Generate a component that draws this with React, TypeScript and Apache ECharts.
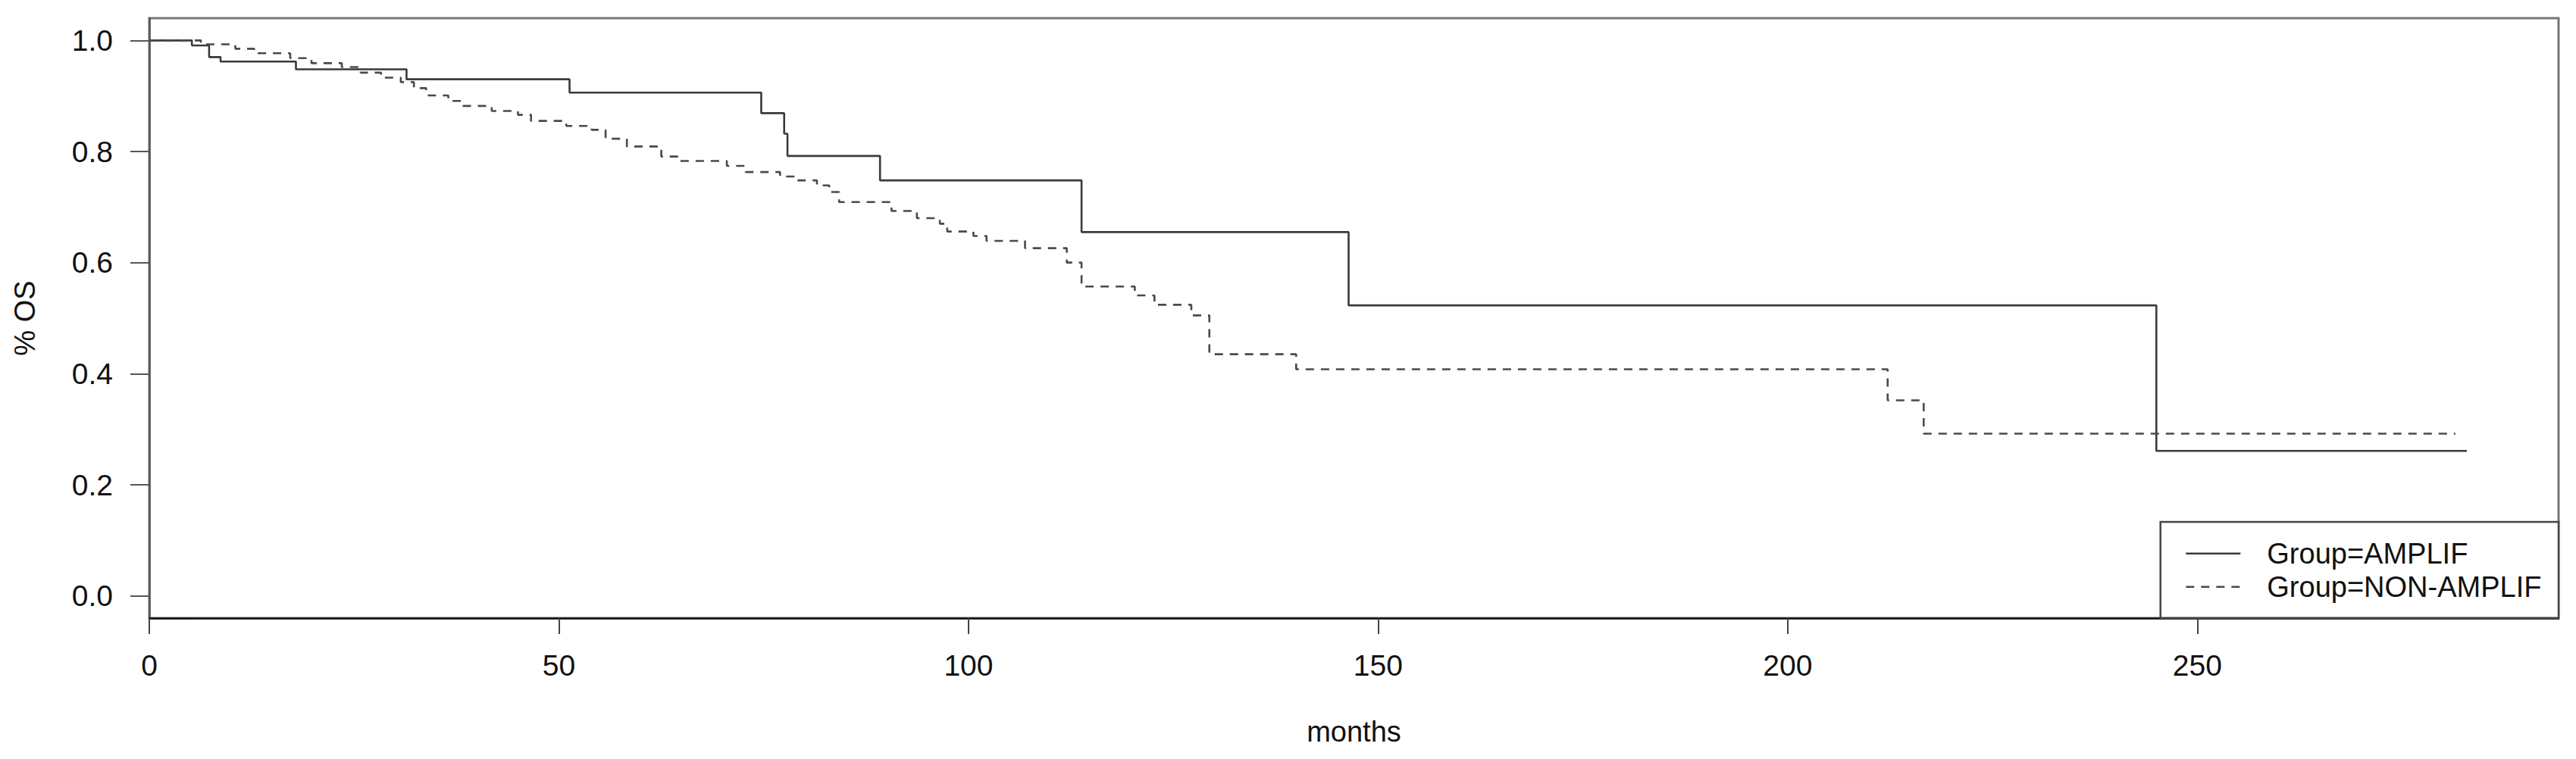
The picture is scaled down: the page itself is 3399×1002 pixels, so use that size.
import React, { useEffect, useRef } from 'react';
import * as echarts from 'echarts';

// Kaplan-Meier step data (time in months, survival proportion)
const amplifTimes = [0, 5.2, 7.3, 8.7, 17.9, 31.4, 51.3, 74.7, 77.5, 77.9, 89.2, 113.8, 146.4, 245.0, 282.9];
const amplifSurv = [1.0, 0.991, 0.970, 0.962, 0.948, 0.930, 0.906, 0.869, 0.832, 0.792, 0.748, 0.655, 0.523, 0.261, 0.261];

const nonAmplifTimes = [0, 6.3, 10.5, 12.8, 17.2, 19.8, 23.5, 25.8, 28.3, 30.7, 32.3, 33.8, 36.5, 38.1, 41.8, 45.0, 46.6, 50.9, 54.0, 55.7, 58.3, 62.5, 64.7, 70.5, 72.8, 77.0, 78.8, 81.5, 83.0, 84.2, 90.6, 93.7, 96.5, 97.4, 100.6, 102.2, 106.9, 112.0, 113.8, 120.3, 122.7, 127.2, 129.4, 140.0, 212.2, 216.6, 281.5];
const nonAmplifSurv = [1.0, 0.993, 0.985, 0.977, 0.968, 0.959, 0.952, 0.942, 0.933, 0.925, 0.914, 0.901, 0.891, 0.882, 0.873, 0.866, 0.855, 0.846, 0.839, 0.823, 0.809, 0.791, 0.783, 0.774, 0.763, 0.755, 0.748, 0.739, 0.727, 0.709, 0.693, 0.680, 0.670, 0.656, 0.648, 0.639, 0.626, 0.600, 0.557, 0.541, 0.524, 0.505, 0.435, 0.408, 0.352, 0.292, 0.292];

const seriesNames = ['Group=AMPLIF', 'Group=NON-AMPLIF'];
const xTicks = [0, 50, 100, 150, 200, 250];
const yTicks = [0, 0.2, 0.4, 0.6, 0.8, 1.0];
const xAxisName = 'months';
const yAxisName = '% OS';

const FONT = 'Liberation Sans, Arial, Helvetica, sans-serif';

export default function App() {
  const ref = useRef<HTMLDivElement>(null);

  useEffect(() => {
    document.body.style.margin = '0';
    document.body.style.overflow = 'hidden';
    if (!ref.current) return;
    const chart = echarts.init(ref.current, undefined, { renderer: 'svg' });

    const amplifData = amplifTimes.map((t, i) => [t, amplifSurv[i]]);
    const nonAmplifData = nonAmplifTimes.map((t, i) => [t, nonAmplifSurv[i]]);

    chart.setOption({
      animation: false,
      backgroundColor: '#ffffff',
      grid: {
        left: 197,
        right: 23,
        top: 24,
        bottom: 186,
        show: true,
        borderColor: '#777777',
        borderWidth: 3,
        containLabel: false,
        outerBoundsMode: 'none',
      },
      xAxis: {
        type: 'value',
        min: 0,
        max: 294.1,
        name: xAxisName,
        nameLocation: 'middle',
        nameGap: 150,
        nameTextStyle: { fontSize: 38, fontFamily: FONT, color: '#111', verticalAlign: 'middle' },
        axisLine: { show: true, onZero: false, lineStyle: { color: '#111', width: 2.5 } },
        axisTick: { show: true, inside: false, length: 21, customValues: xTicks, lineStyle: { color: '#444', width: 2 } },
        axisLabel: {
          show: true,
          customValues: xTicks,
          margin: 62,
          verticalAlign: 'middle',
          fontSize: 39,
          fontFamily: FONT,
          color: '#111',
          formatter: (v: number) => String(Math.round(v)),
        },
        splitLine: { show: false },
      },
      yAxis: {
        type: 'value',
        min: -0.04,
        max: 1.04,
        name: yAxisName,
        nameLocation: 'middle',
        nameGap: 164,
        nameRotate: 90,
        nameTextStyle: { fontSize: 38, fontFamily: FONT, color: '#111', verticalAlign: 'middle', align: 'center' },
        axisLine: { show: true, onZero: false, lineStyle: { color: '#555', width: 2.5 } },
        axisTick: { show: true, inside: false, length: 25, customValues: yTicks, lineStyle: { color: '#555', width: 2 } },
        axisLabel: {
          show: true,
          customValues: yTicks,
          margin: 48,
          fontSize: 39,
          fontFamily: FONT,
          color: '#111',
          formatter: (v: number) => v.toFixed(1),
        },
        splitLine: { show: false },
      },
      legend: {
        show: true,
        orient: 'vertical',
        left: 2883,
        top: 708.7,
        padding: 0,
        itemWidth: 72,
        itemHeight: 20,
        itemGap: 0,
        data: seriesNames,
        itemStyle: { color: 'rgba(0,0,0,0)', borderColor: 'rgba(0,0,0,0)', borderWidth: 0, opacity: 0 },
        lineStyle: { width: 2.6 },
        textStyle: {
          fontSize: 38,
          fontFamily: FONT,
          color: '#111',
          lineHeight: 44,
          padding: [0, 0, 0, 30],
        },
        z: 10,
      },
      graphic: [
        {
          type: 'rect',
          z: 3,
          shape: { x: 2850.7, y: 689, width: 3376 - 2850.7, height: 815.7 - 689 },
          style: { fill: '#ffffff', stroke: '#444444', lineWidth: 2.5 },
        },
      ],
      series: [
        {
          name: seriesNames[0],
          type: 'line',
          step: 'end',
          data: amplifData,
          showSymbol: false,
          symbol: 'none',
          lineStyle: { color: '#3a3a3a', width: 2.6, type: 'solid' },
          itemStyle: { color: '#3a3a3a' },
          z: 2,
        },
        {
          name: seriesNames[1],
          type: 'line',
          step: 'end',
          data: nonAmplifData,
          showSymbol: false,
          symbol: 'none',
          lineStyle: { color: '#4a4a4a', width: 2.6, type: [11, 9] },
          itemStyle: { color: '#4a4a4a' },
          z: 2,
        },
      ],
    });

    return () => {
      chart.dispose();
    };
  }, []);

  return <div ref={ref} style={{ width: 3399, height: 1002 }} />;
}
